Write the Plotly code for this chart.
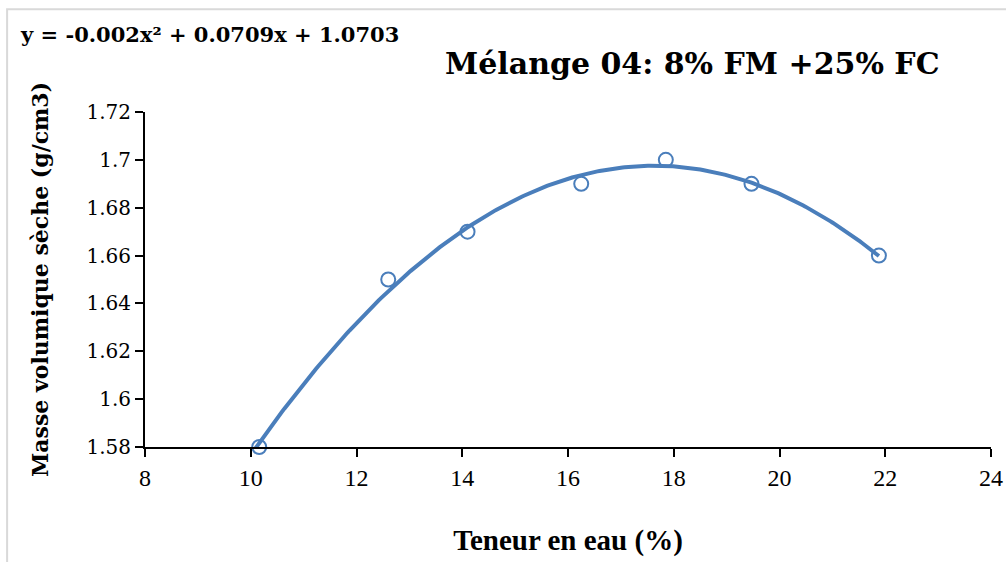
import numpy as np
import plotly.graph_objects as go

# Data
teneur_eau = [10.16, 12.6, 14.1, 16.25, 17.85, 19.47, 21.88]
masse_vol = [1.58, 1.65, 1.67, 1.69, 1.70, 1.69, 1.66]
x_ticks = [8, 10, 12, 14, 16, 18, 20, 22, 24]
y_ticks = [1.58, 1.60, 1.62, 1.64, 1.66, 1.68, 1.70, 1.72]
y_tick_text = ["1.58", "1.6", "1.62", "1.64", "1.66", "1.68", "1.7", "1.72"]

title_text = "Mélange 04: 8% FM +25% FC"
equation_text = "y = -0.002x² + 0.0709x + 1.0703"

# Polynomial (order 2) trendline fitted to the data
coef = np.polyfit(teneur_eau, masse_vol, 2)
xs = np.linspace(10.0, max(teneur_eau), 300)
ys = np.polyval(coef, xs)

blue = "#4A7EBB"
serif_wide = "DejaVu Serif, serif"
serif_narrow = "Liberation Serif, serif"

fig = go.Figure()
fig.add_trace(go.Scatter(x=xs, y=ys, mode="lines",
                         line=dict(color=blue, width=4),
                         hoverinfo="skip", showlegend=False))
fig.add_trace(go.Scatter(x=teneur_eau, y=masse_vol, mode="markers",
                         marker=dict(symbol="circle-open", size=14,
                                     color=blue, line=dict(width=2, color=blue)),
                         cliponaxis=False, showlegend=False))

fig.update_layout(
    width=1006, height=562,
    margin=dict(l=145, r=15, t=112, b=115, autoexpand=False),
    paper_bgcolor="white", plot_bgcolor="white",
    font=dict(family=serif_wide, color="black", size=20),
    showlegend=False,
    xaxis=dict(range=[8, 24], tickvals=x_ticks, ticktext=[str(v) for v in x_ticks],
               automargin=False,
               showgrid=False, zeroline=False, showline=True, linecolor="black",
               linewidth=2, ticks="outside", ticklen=8, tickwidth=2, tickcolor="black",
               tickfont=dict(size=24, family=serif_narrow),
               title=dict(text="<b>Teneur en eau (%)</b>",
                          font=dict(size=29, family=serif_narrow), standoff=40)),
    yaxis=dict(range=[1.58, 1.72], tickvals=y_ticks, ticktext=y_tick_text,
               automargin=False,
               showgrid=False, zeroline=False, showline=True, linecolor="black",
               linewidth=2, ticks="outside", ticklen=8, tickwidth=2, tickcolor="black",
               tickfont=dict(size=20, family=serif_wide),
               title=dict(text="<b>Masse volumique sèche (g/cm3)</b>",
                          font=dict(size=22, family=serif_wide), standoff=32)),
    shapes=[dict(type="rect", xref="paper", yref="paper",
                 x0=-0.163, x1=1.05, y0=-0.5, y1=1.307,
                 line=dict(color="#D9D9D9", width=2), layer="below")],
    annotations=[
        dict(text="<b>" + title_text + "</b>", xref="paper", yref="paper",
             x=0.647, y=1.146, xanchor="center", yanchor="middle",
             showarrow=False, font=dict(size=30, family=serif_wide)),
        dict(text="<b>" + equation_text + "</b>", xref="paper", yref="paper",
             x=-0.150, y=1.23, xanchor="left", yanchor="middle",
             showarrow=False, font=dict(size=21, family=serif_wide)),
    ],
)

fig.write_html("out.html")
